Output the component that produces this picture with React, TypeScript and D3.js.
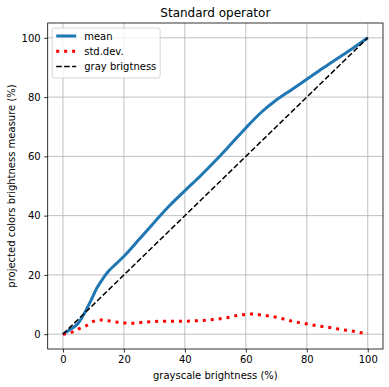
import { useEffect, useRef } from 'react';
import * as d3 from 'd3';

// grayscale brightness (%) sample points
const meanX = [0, 2, 5, 7, 9, 11, 13, 15, 17.5, 20, 25, 30, 35, 40, 45, 50, 55, 60, 65, 70, 75, 80, 85, 90, 95, 100];
const meanY = [0, 1.3, 3.7, 7, 11, 15.3, 18.6, 21.3, 23.8, 26.3, 32, 37.8, 43.4, 48.4, 53.3, 58.5, 64, 69.6, 74.8, 79, 82.5, 86, 89.6, 93, 96.4, 100];

const stdX = [0, 2.5, 5, 7.5, 10, 12.5, 15, 17.5, 20, 23, 26, 30, 35, 40, 45, 50, 55, 57, 60, 62, 65, 67, 70, 72.5, 75, 77.5, 80, 83, 85, 88, 90, 93, 96, 98, 100];
const stdY = [0, 0.5, 1.7, 2.8, 4.3, 4.8, 4.5, 4.1, 3.8, 3.7, 4.0, 4.3, 4.4, 4.4, 4.6, 5.0, 5.8, 6.3, 6.7, 6.8, 6.5, 6.2, 5.7, 5.1, 4.4, 3.9, 3.5, 2.9, 2.6, 2.2, 1.8, 1.3, 0.9, 0.5, 0.3];

const grayX = [0, 100];
const grayY = [0, 100];

const xTicks = [0, 20, 40, 60, 80, 100];
const yTicks = [0, 20, 40, 60, 80, 100];

const legendLabels = ['mean', 'std.dev.', 'gray brigtness'];

function App() {
  const svgRef = useRef<SVGSVGElement>(null);

  useEffect(() => {
    const W = 389;
    const H = 387;
    const margin = { top: 23, right: 6, bottom: 38, left: 47.7 };
    const font = 'DejaVu Sans, sans-serif';

    const root = d3.select(svgRef.current);
    root.selectAll('*').remove();
    root.attr('width', W).attr('height', H);

    root.append('rect').attr('width', W).attr('height', H).attr('fill', '#fff');

    const x = d3.scaleLinear().domain([-5, 105]).range([margin.left, W - margin.right]);
    const y = d3.scaleLinear().domain([-5, 105]).range([H - margin.bottom, margin.top]);

    const [x0, x1] = x.range();
    const [y0, y1] = y.range();

    // grid
    const grid = root.append('g').attr('stroke', '#b0b0b0').attr('stroke-width', 0.8);
    xTicks.forEach((t) => {
      grid.append('line').attr('x1', x(t)).attr('x2', x(t)).attr('y1', y0).attr('y2', y1);
    });
    yTicks.forEach((t) => {
      grid.append('line').attr('x1', x0).attr('x2', x1).attr('y1', y(t)).attr('y2', y(t));
    });

    const toPts = (xs: number[], ys: number[]) => xs.map((v, i) => [v, ys[i]] as [number, number]);
    const line = d3
      .line<[number, number]>()
      .x((d) => x(d[0]))
      .y((d) => y(d[1]))
      .curve(d3.curveMonotoneX);

    const plot = root.append('g');
    plot
      .append('path')
      .attr('d', line(toPts(meanX, meanY)))
      .attr('fill', 'none')
      .attr('stroke', '#1f77b4')
      .attr('stroke-width', 3);
    plot
      .append('path')
      .attr('d', line(toPts(stdX, stdY)))
      .attr('fill', 'none')
      .attr('stroke', '#ff0000')
      .attr('stroke-width', 3)
      .attr('stroke-dasharray', '3 4.95');
    plot
      .append('path')
      .attr('d', line(toPts(grayX, grayY)))
      .attr('fill', 'none')
      .attr('stroke', '#000')
      .attr('stroke-width', 1.5)
      .attr('stroke-dasharray', '5.55 2.4');

    // frame
    root
      .append('rect')
      .attr('x', x0)
      .attr('y', y1)
      .attr('width', x1 - x0)
      .attr('height', y0 - y1)
      .attr('fill', 'none')
      .attr('stroke', '#000')
      .attr('stroke-width', 0.8);

    // axes
    const xAxis = root
      .append('g')
      .attr('transform', `translate(0,${y0})`)
      .call(d3.axisBottom(x).tickValues(xTicks).tickSize(3.5).tickPadding(3.5));
    const yAxis = root
      .append('g')
      .attr('transform', `translate(${x0},0)`)
      .call(d3.axisLeft(y).tickValues(yTicks).tickSize(3.5).tickPadding(3.5));
    [xAxis, yAxis].forEach((a) => {
      a.select('.domain').remove();
      a.selectAll('line').attr('stroke', '#000').attr('stroke-width', 0.8);
      a.selectAll('text').attr('font-family', font).attr('font-size', 10).attr('fill', '#000');
    });

    // labels
    root
      .append('text')
      .attr('x', (x0 + x1) / 2)
      .attr('y', 17)
      .attr('text-anchor', 'middle')
      .attr('font-family', font)
      .attr('font-size', 12)
      .text('Standard operator');
    root
      .append('text')
      .attr('x', (x0 + x1) / 2)
      .attr('y', 379)
      .attr('text-anchor', 'middle')
      .attr('font-family', font)
      .attr('font-size', 10)
      .text('grayscale brightness (%)');
    root
      .append('text')
      .attr('transform', `translate(15,${(y0 + y1) / 2}) rotate(-90)`)
      .attr('text-anchor', 'middle')
      .attr('font-family', font)
      .attr('font-size', 10)
      .text('projected colors brightness measure (%)');

    // legend
    const lg = root.append('g').attr('transform', `translate(${x0 + 4.5},${y1 + 5})`);
    lg.append('rect')
      .attr('width', 108)
      .attr('height', 50)
      .attr('rx', 2.5)
      .attr('fill', '#fff')
      .attr('fill-opacity', 0.8)
      .attr('stroke', '#cccccc')
      .attr('stroke-width', 0.8);
    const handles = [
      { stroke: '#1f77b4', w: 3, dash: null },
      { stroke: '#ff0000', w: 3, dash: '3 4.95' },
      { stroke: '#000', w: 1.5, dash: '5.55 2.4' },
    ];
    legendLabels.forEach((lab, i) => {
      const cy = 8 + i * 15.3;
      const h = handles[i];
      lg.append('line')
        .attr('x1', 4)
        .attr('x2', 24)
        .attr('y1', cy)
        .attr('y2', cy)
        .attr('stroke', h.stroke)
        .attr('stroke-width', h.w)
        .attr('stroke-dasharray', h.dash);
      lg.append('text')
        .attr('x', 32)
        .attr('y', cy)
        .attr('dy', '0.35em')
        .attr('font-family', font)
        .attr('font-size', 10)
        .text(lab);
    });
  }, []);

  return <svg ref={svgRef} style={{ position: 'absolute', left: 0, top: 0 }}></svg>;
}

export default App;
